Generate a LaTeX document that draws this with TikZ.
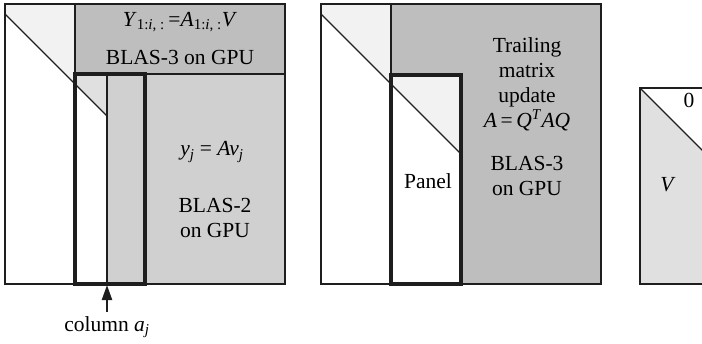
\documentclass[tikz,border=0pt]{standalone}
\usepackage{fontspec}
\setmainfont{Liberation Serif}
\usetikzlibrary{arrows.meta}
\definecolor{dk}{RGB}{190,190,190}
\definecolor{md}{RGB}{208,208,208}
\definecolor{lt}{RGB}{224,224,224}
\definecolor{vl}{RGB}{242,242,242}
\definecolor{ln}{RGB}{30,30,30}
\begin{document}
\begin{tikzpicture}[x=1pt,y=-1pt,
  thin line/.style={draw=ln,line width=1.1pt},
  panelbox/.style={draw=ln,line width=3.4pt},
  lbl/.style={font=\fontsize{21.5}{25}\selectfont,inner sep=0pt,align=center},
  ]
\useasboundingbox (0,0) rectangle (702,343);
% ---------- left matrix ----------
\fill[white] (5,4) rectangle (285,284);
\fill[dk] (75,4) rectangle (285,74);
\fill[vl] (5,4) -- (75,4) -- (75,84) -- (5,14) -- cycle;
\fill[lt] (75,74) -- (107,74) -- (107,116) -- (75,84) -- cycle;
\fill[md] (107,74) rectangle (285,284);
\draw[thin line] (5,4) rectangle (285,284);
\draw[thin line] (75,4) -- (75,284);
\draw[thin line] (75,74) -- (285,74);
\draw[thin line,line width=1.3pt] (5,14) -- (107,116);
\draw[thin line] (107,74) -- (107,284);
\draw[panelbox] (75,74) rectangle (145,284);
\node[lbl] (yeq) at (180,22) {\textit{Y}\textsubscript{1:\textit{i}, :}\,=\textit{A}\textsubscript{1:\textit{i}, :}\textit{V}};
\node[lbl] (b3a) at (180,57) {BLAS-3 on GPU};
\node[lbl] (yj) at (212,152) {\textit{y}\textsubscript{\textit{j}} = \textit{Av}\textsubscript{\textit{j}}};
\node[lbl] (b2) at (215,218) {BLAS-2\\on GPU};
\coordinate (aj) at (107,285);
\node[lbl] (col) at (107,327) {column \textit{a}\textsubscript{\textit{j}}};
\draw[-{Triangle[length=15pt,width=10pt]},line width=2.2pt,ln] (107,312) -- (aj);
% ---------- middle matrix ----------
\fill[white] (321,4) rectangle (601,284);
\fill[vl] (321,4) -- (391,4) -- (391,84) -- (321,14) -- cycle;
\fill[dk] (391,4) rectangle (601,284);
\fill[white] (391,75) rectangle (461,284);
\fill[vl] (391,75) -- (461,75) -- (461,154) -- (391,84) -- cycle;
\draw[thin line] (321,4) rectangle (601,284);
\draw[thin line] (391,4) -- (391,284);
\draw[thin line,line width=1.3pt] (321,14) -- (461,154);
\draw[panelbox] (391,75) rectangle (461,284);
\node[lbl] (pan) at (428,181) {Panel};
\node[lbl] (tr) at (527,84) {Trailing\\matrix\\update\\\textit{A}\,=\,\textit{Q}\textsuperscript{\textit{T}}\textit{AQ}};
\node[lbl] (b3b) at (527,176) {BLAS-3\\on GPU};
% ---------- right matrix ----------
\begin{scope}
\clip (0,0) rectangle (702,343);
\fill[lt] (640,88) rectangle (800,284);
\fill[white] (640,88) -- (800,88) -- (800,248) -- cycle;
\draw[thin line] (800,88) -- (640,88) -- (640,284) -- (800,284);
\draw[thin line,line width=1.3pt] (640,88) -- (800,248);
\end{scope}
\node[lbl] (zero) at (689,100) {0};
\node[lbl] (vv) at (668,185) {\textit{V}};
\end{tikzpicture}
\end{document}
